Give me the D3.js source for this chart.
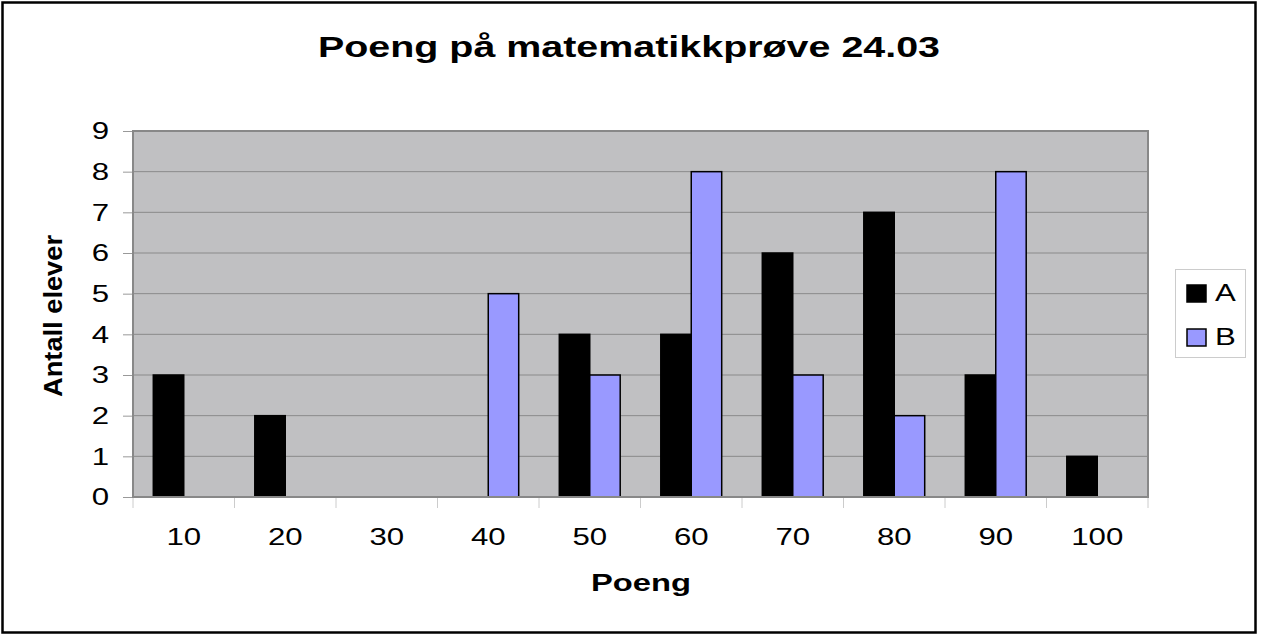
<!DOCTYPE html>
<html><head><meta charset="utf-8">
<script src="https://cdn.jsdelivr.net/npm/d3@7"></script>
<style>body{margin:0;background:#fff}svg{display:block}text{font-family:"Liberation Sans",Arial,sans-serif}</style>
</head><body><svg id="c" width="1264" height="636"></svg>
<script>
const categories = ["10","20","30","40","50","60","70","80","90","100"];
const seriesA = [3,2,0,0,4,4,6,7,3,1];
const seriesB = [0,0,0,5,3,8,3,2,8,0];
const seriesNames = ["A","B"];
const seriesColors = ["#000000","#9999ff"];
const yTicks = [0,1,2,3,4,5,6,7,8,9];
const SX = 1.3; // horizontal stretch of text seen in the reference

const svg = d3.select("#c");
svg.append("rect").attr("x",2.5).attr("y",2.5).attr("width",1253).attr("height",630)
  .attr("fill","#fff").attr("stroke","#000").attr("stroke-width",2.5);

const L=133, R=1148, T=131, B=497;
const x0 = d3.scaleBand().domain(categories).range([L,R]).padding(0);
const x1 = d3.scaleBand().domain(seriesNames).range([0.2*x0.bandwidth(),0.8*x0.bandwidth()]).padding(0);
const y = d3.scaleLinear().domain([0,9]).range([B,T]);

svg.append("rect").attr("x",L).attr("y",T).attr("width",R-L).attr("height",B-T)
  .attr("fill","#c0c0c2");

// grid
svg.append("g").selectAll("line").data(yTicks.filter(d=>d>0&&d<9)).join("line")
  .attr("x1",L).attr("x2",R).attr("y1",d=>y(d)).attr("y2",d=>y(d))
  .attr("stroke","#8a8a8a").attr("stroke-width",1);

// y axis ticks (lines via d3 axis, labels stretched)
const yAxis = d3.axisLeft(y).tickValues(yTicks).tickSize(10).tickFormat("");
const yg = svg.append("g").attr("transform",`translate(${L},0)`).call(yAxis);
yg.select(".domain").remove();
yg.selectAll(".tick line").attr("stroke","#999");
svg.append("g").selectAll("text").data(yTicks).join("text")
  .attr("transform",d=>`translate(109,${y(d)}) scale(${SX},1)`)
  .attr("dy","0.35em").attr("text-anchor","end").attr("font-size",24).text(d=>d);

// x axis
const xg = svg.append("g").attr("transform",`translate(0,${B})`);
xg.selectAll("line").data(d3.range(categories.length+1)).join("line")
  .attr("x1",i=>L+i*x0.bandwidth()).attr("x2",i=>L+i*x0.bandwidth())
  .attr("y1",0).attr("y2",11).attr("stroke","#ccc");
xg.selectAll("text").data(categories).join("text")
  .attr("transform",d=>`translate(${x0(d)+x0.bandwidth()/2},48) scale(${SX},1)`)
  .attr("text-anchor","middle").attr("font-size",24).text(d=>d);

// bars
const rows = categories.map((c,i)=>({c, vals:[seriesA[i],seriesB[i]]}));
const grp = svg.append("g").selectAll("g").data(rows).join("g")
  .attr("transform",d=>`translate(${x0(d.c)},0)`);
grp.selectAll("rect").data(d=>d.vals.map((v,j)=>({v,j})).filter(e=>e.v>0)).join("rect")
  .attr("x",e=>x1(seriesNames[e.j])).attr("width",x1.bandwidth())
  .attr("y",e=>y(e.v)).attr("height",e=>y(0)-y(e.v))
  .attr("fill",e=>seriesColors[e.j]).attr("stroke","#000").attr("stroke-width",1.5);

// plot border
svg.append("rect").attr("x",L).attr("y",T).attr("width",R-L).attr("height",B-T)
  .attr("fill","none").attr("stroke","#888").attr("stroke-width",2);

// titles
svg.append("text").attr("x",629).attr("y",57).attr("text-anchor","middle")
  .attr("font-size",30).attr("font-weight","bold")
  .attr("textLength",622).attr("lengthAdjust","spacingAndGlyphs")
  .text("Poeng på matematikkprøve 24.03");
svg.append("text").attr("x",641).attr("y",591).attr("text-anchor","middle")
  .attr("font-size",24).attr("font-weight","bold")
  .attr("textLength",100).attr("lengthAdjust","spacingAndGlyphs").text("Poeng");
svg.append("text").attr("transform","translate(62,316) rotate(-90)").attr("text-anchor","middle")
  .attr("font-size",26).attr("font-weight","bold").attr("textLength",162).attr("lengthAdjust","spacingAndGlyphs")
  .text("Antall elever");

// legend
const lg = svg.append("g");
lg.append("rect").attr("x",1175.5).attr("y",269.5).attr("width",70).attr("height",88)
  .attr("fill","#fff").attr("stroke","#ccc");
const li = lg.selectAll("g").data(seriesNames).join("g")
  .attr("transform",(d,i)=>`translate(1187,${285+i*44})`);
li.append("rect").attr("width",19).attr("height",17).attr("fill",(d,i)=>seriesColors[i])
  .attr("stroke","#000").attr("stroke-width",1.5);
li.append("text").attr("transform",`translate(28,16) scale(${SX},1)`).attr("font-size",24).text(d=>d);
</script></body></html>
